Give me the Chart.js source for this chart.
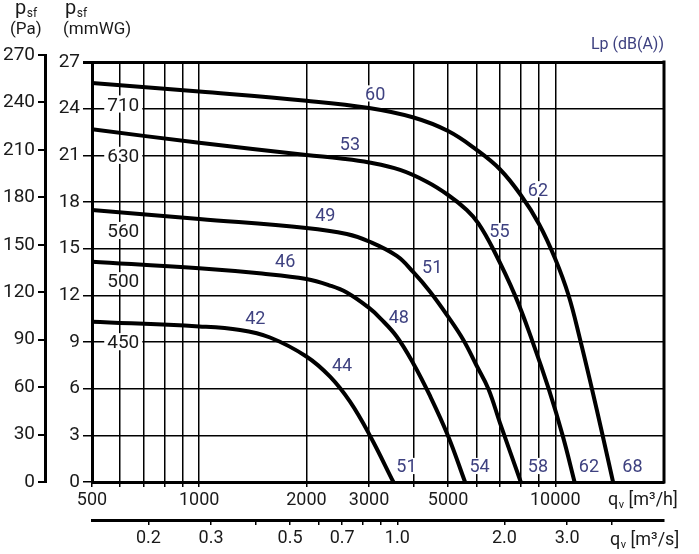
<!DOCTYPE html>
<html>
<head>
<meta charset="utf-8">
<title>Fan curves</title>
<script src="https://cdn.jsdelivr.net/npm/chart.js@4.4.1/dist/chart.umd.min.js"></script>
<style>
    html, body { margin: 0; padding: 0; background: #ffffff; }
    canvas { display: block; }
</style>
</head>
<body>
<canvas id="fanChart" width="699" height="554"></canvas>
<script>
// fan sizes, bottom curve first
const sizes = ["450", "500", "560", "630", "710"];

// qv [m3/h] / psf [mmWG]
const flow450 = [500, 1000, 1302, 1581, 2000, 2331, 2652, 3020, 3510];
const psf450 = [10.30, 10.0, 9.77, 9.29, 8.07, 6.77, 5.16, 2.96, 0];

const flow500 = [500, 1000, 1500, 2000, 2331, 2597, 3000, 3221, 3589, 4000, 4450, 5000, 5580];
const psf500 = [14.16, 13.74, 13.40, 13.05, 12.63, 12.18, 11.19, 10.54, 9.34, 7.59, 5.53, 2.96, 0];

const flow560 = [500, 1000, 2000, 2597, 3000, 3589, 4000, 4450, 5000, 5520, 6000, 6490, 7000, 8000];
const psf560 = [17.49, 16.91, 16.33, 15.94, 15.46, 14.53, 13.47, 12.23, 10.63, 9.13, 7.52, 5.98, 3.77, 0];

const flow630 = [500, 1000, 2000, 2500, 3000, 3666, 4357, 5000, 5642, 6082, 6690, 7713, 8647, 9585, 10491, 11330];
const psf630 = [22.67, 21.81, 21.02, 20.80, 20.54, 20.06, 19.30, 18.45, 17.49, 16.63, 14.98, 11.98, 8.98, 5.98, 2.98, 0];

const flow710 = [500, 1000, 2000, 3000, 4000, 5000, 6000, 7000, 8000, 9000, 10000, 10890, 11750, 12640, 13565, 14530];
const psf710 = [25.65, 25.10, 24.51, 24.04, 23.43, 22.56, 21.37, 20.09, 18.45, 16.59, 14.34, 12.02, 9.13, 6.11, 3.05, 0];

// size labels at the left of the curves
const sizeFlow = [612, 612, 612, 612, 612];
const sizePsf = [9.02, 12.94, 16.17, 21.0, 24.3];

// sound level labels Lp dB(A)
const dbText = ["60", "53", "49", "46", "42", "62", "55", "51", "48", "44", "51", "54", "58", "62", "68"];
const dbFlow = [3120, 2650, 2260, 1744, 1437, 8940, 6970, 4510, 3635, 2519, 3820, 6130, 8940, 12430, 16470];
const dbPsf = [24.98, 21.78, 17.17, 14.23, 10.55, 18.82, 16.14, 13.85, 10.63, 7.52, 1.03, 1.03, 1.03, 1.03, 1.03];

// axes
const FLOW_MIN = 500;
const FLOW_MAX = 20200;
const flowGrid = [500, 600, 700, 800, 900, 1000, 2000, 3000, 4000, 5000, 6000, 7000, 8000, 9000, 10000];
const flowLabels = [500, 1000, 2000, 3000, 5000, 10000];
const secTicks = [0.2, 0.3, 0.4, 0.5, 0.6, 0.7, 0.8, 0.9, 1, 2, 3, 4];
const secLabels = [0.2, 0.3, 0.5, 0.7, 1, 2, 3];

const INK = "#1a1a1a";
const BLUE = "#3e4180";
const FONT = "Roboto, 'DejaVu Sans', sans-serif";

Chart.defaults.font.family = FONT;
Chart.defaults.color = INK;

function curve(flow, psf) {
    return flow.map((q, i) => ({ x: q, y: psf[i] }));
}

const curves = [
    curve(flow450, psf450),
    curve(flow500, psf500),
    curve(flow560, psf560),
    curve(flow630, psf630),
    curve(flow710, psf710),
];

function boxedText(ctx, text, px, py, color, size) {
    ctx.font = size + "px " + FONT;
    const w = ctx.measureText(text).width;
    ctx.fillStyle = "#ffffff";
    ctx.fillRect(px - w / 2 - 3, py - size * 0.45, w + 6, size * 0.9);
    ctx.fillStyle = color;
    ctx.textAlign = "center";
    ctx.textBaseline = "alphabetic";
    ctx.fillText(text, px, py + size * 0.355);
}

// main text + small subscript + optional rest, drawn from left x
function subText(ctx, main, sub, rest, x, y, size, subSize) {
    ctx.textAlign = "left";
    ctx.textBaseline = "alphabetic";
    ctx.font = size + "px " + FONT;
    ctx.fillText(main, x, y);
    x += ctx.measureText(main).width;
    ctx.font = subSize + "px " + FONT;
    ctx.fillText(sub, x + 0.5, y + 3);
    x += ctx.measureText(sub).width + 0.5;
    if (rest) {
        ctx.font = size + "px " + FONT;
        ctx.fillText(rest, x, y);
    }
}

const annotate = {
    id: "annotate",
    afterLayout(chart) {
        // the Pa axis runs a bit higher than the plot frame
        const pa = chart.scales.pa;
        pa.top = chart.chartArea.top - 7;
        pa.height = pa.bottom - pa.top;
        pa.configure();
    },
    beforeDatasetsDraw(chart) {
        const { ctx, scales: { x, y } } = chart;
        ctx.save();
        sizes.forEach((s, i) => {
            boxedText(ctx, s, x.getPixelForValue(sizeFlow[i]), y.getPixelForValue(sizePsf[i]), INK, 19);
        });
        dbText.forEach((t, i) => {
            boxedText(ctx, t, x.getPixelForValue(dbFlow[i]), y.getPixelForValue(dbPsf[i]), BLUE, 18);
        });
        ctx.restore();
    },
    afterDraw(chart) {
        const { ctx, chartArea: area, scales } = chart;
        ctx.save();
        // right edge of the frame
        ctx.strokeStyle = "#000";
        ctx.lineWidth = 3;
        ctx.beginPath();
        ctx.moveTo(area.right, area.top - 1.5);
        ctx.lineTo(area.right, area.bottom + 1.5);
        ctx.stroke();

        ctx.fillStyle = INK;
        subText(ctx, "p", "sf", "", 15, 14, 20, 12);
        ctx.font = "17px " + FONT;
        ctx.textAlign = "left";
        ctx.fillText("(Pa)", 10, 34);
        subText(ctx, "p", "sf", "", 65, 14, 20, 12);
        ctx.font = "17px " + FONT;
        ctx.fillText("(mmWG)", 63, 34);

        ctx.fillStyle = BLUE;
        ctx.font = "16px " + FONT;
        ctx.textAlign = "right";
        ctx.fillText("Lp (dB(A))", area.right, 49);

        ctx.fillStyle = INK;
        subText(ctx, "q", "v", " [m³/h]", 608, scales.x.top + 23, 18, 11);
        subText(ctx, "q", "v", " [m³/s]", 610, scales.x2.top + 25, 18, 11);
        ctx.restore();
    },
};

const fanConfig = {
    type: "scatter",
    data: {
        datasets: curves.map((pts, i) => ({
            label: sizes[i],
            data: pts,
            showLine: true,
            borderColor: "#000",
            borderWidth: 4,
            pointRadius: 0,
            tension: 0.4,
            xAxisID: "x",
            yAxisID: "y",
        })),
    },
    options: {
        responsive: false,
        animation: false,
        devicePixelRatio: 1,
        layout: {
            padding: { left: 0, right: 35, top: 62, bottom: 0 },
        },
        plugins: {
            legend: { display: false },
            tooltip: { enabled: false },
        },
        scales: {
            x: {
                type: "logarithmic",
                position: "bottom",
                min: FLOW_MIN,
                max: FLOW_MAX,
                afterBuildTicks: (s) => { s.ticks = flowGrid.map((v) => ({ value: v })); },
                afterFit: (s) => { s.height = 38; },
                ticks: {
                    autoSkip: false,
                    maxRotation: 0,
                    padding: 3,
                    font: { size: 18 },
                    color: INK,
                    callback: (v) => (flowLabels.includes(v) ? String(v) : ""),
                },
                grid: { color: "#000", lineWidth: 1.5, tickLength: 5 },
                border: { color: "#000", width: 3 },
            },
            x2: {
                type: "logarithmic",
                position: "bottom",
                min: FLOW_MIN / 3600,
                max: FLOW_MAX / 3600,
                afterBuildTicks: (s) => { s.ticks = secTicks.map((v) => ({ value: v })); },
                afterFit: (s) => { s.height = 34; },
                ticks: {
                    autoSkip: false,
                    maxRotation: 0,
                    padding: 3,
                    font: { size: 18 },
                    color: INK,
                    callback: (v) => (secLabels.includes(v) ? v.toFixed(1) : ""),
                },
                grid: { drawOnChartArea: false, color: "#000", lineWidth: 1.5, tickLength: 5 },
                border: { color: "#000", width: 3 },
            },
            y: {
                type: "linear",
                position: "left",
                min: 0,
                max: 27,
                afterFit: (s) => { s.width = 47; },
                ticks: { stepSize: 3, padding: 3, font: { size: 19 }, color: INK },
                grid: {
                    color: "#000",
                    lineWidth: (c) => (c.tick && c.tick.value === 27 ? 3 : 1.5),
                    tickLength: 9,
                },
                border: { color: "#000", width: 3 },
            },
            pa: {
                type: "linear",
                position: "left",
                min: 0,
                max: 270,
                afterFit: (s) => { s.width = 45; },
                ticks: { stepSize: 30, padding: 3, font: { size: 19 }, color: INK },
                grid: { drawOnChartArea: false, color: "#000", lineWidth: 2, tickLength: 7 },
                border: { color: "#000", width: 3 },
            },
        },
    },
    plugins: [annotate],
};

const fanChart = new Chart(document.getElementById("fanChart"), fanConfig);
</script>
</body>
</html>
